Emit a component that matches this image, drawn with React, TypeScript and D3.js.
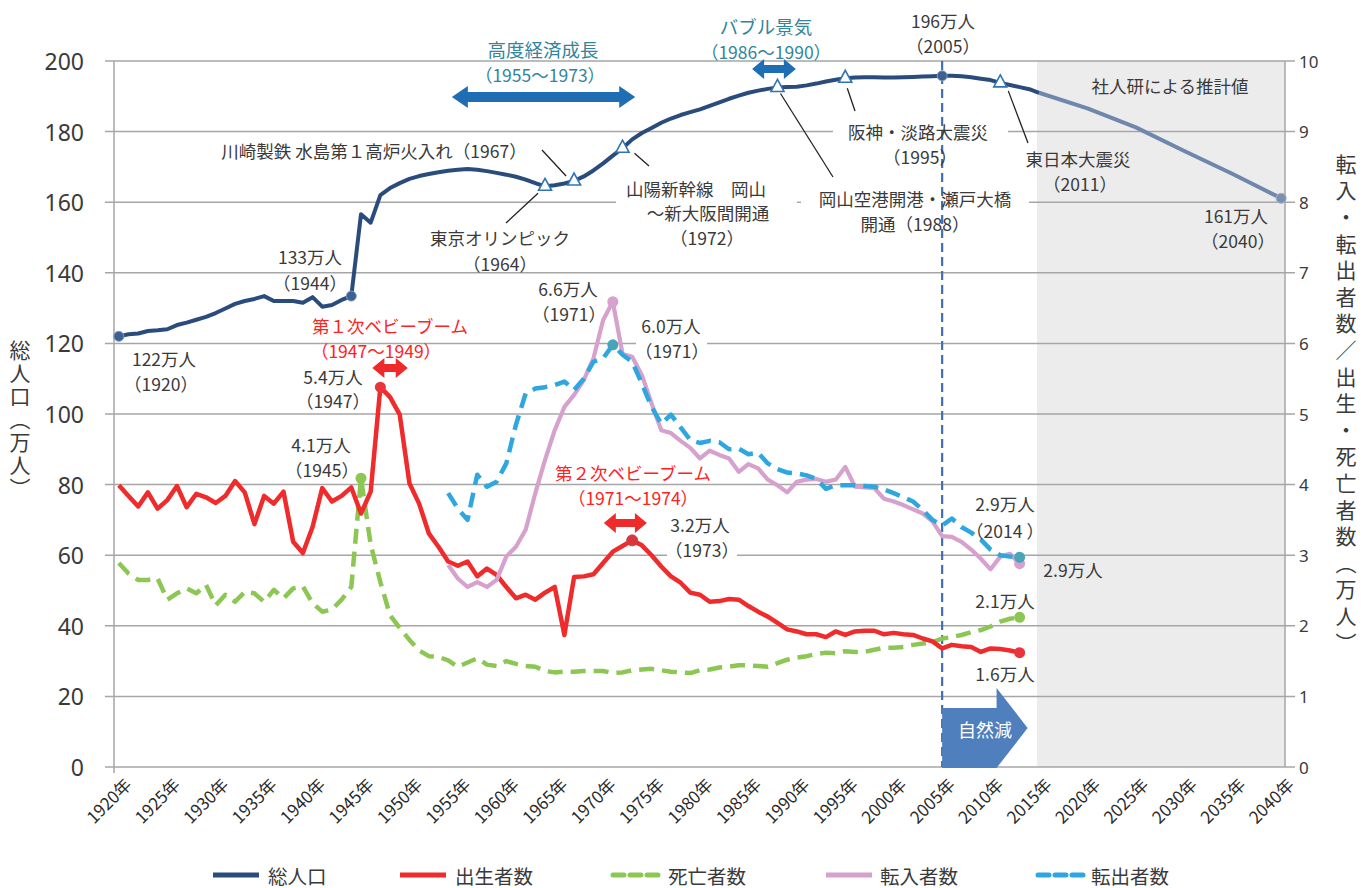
import React from "react";
import * as d3 from "d3";

// plot frame
const W = 1370;
const H = 888;
const PL = 114;
const PR = 1286;
const PT = 61;
const PB = 767;

const FONT = "'Noto Sans CJK JP', 'Noto Sans', sans-serif";
const NUM_FONT = "'Noto Sans', 'Open Sans', sans-serif";
const DARK = "#3a3a3a";
const TEAL = "#31859c";
const RED_TXT = "#ff2222";

// category axis: every year 1920..2040
const years = d3.range(1920, 2041);
const tickYears = [1920, 1925, 1930, 1935, 1940, 1945, 1950, 1955, 1960, 1965, 1970, 1975, 1980, 1985, 1990, 1995, 2000, 2005, 2010, 2015, 2020, 2025, 2030, 2035, 2040];
const leftTicks = [0, 20, 40, 60, 80, 100, 120, 140, 160, 180, 200];
const rightTicks = [0, 1, 2, 3, 4, 5, 6, 7, 8, 9, 10];

// 総人口 (万人), 1920-2015
const popYears = d3.range(1920, 2016);
const popValues = [
  122.0, 122.6, 122.8, 123.5, 123.7, 124.0, 125.2, 125.9, 126.7, 127.5,
  128.6, 129.9, 131.2, 132.0, 132.6, 133.4, 132.0, 132.0, 132.0, 131.5,
  133.1, 130.4, 130.9, 132.3, 133.4, 156.6, 154.2, 162.0, 164.0, 165.4,
  166.6, 167.4, 168.0, 168.5, 168.9, 169.2, 169.4, 169.2, 168.8, 168.3,
  167.8, 167.2, 166.4, 165.4, 164.5, 164.8, 165.3, 166.0, 167.3, 169.0,
  171.0, 173.2, 175.3, 177.8, 179.6, 181.0, 182.5, 183.7, 184.7, 185.5,
  186.3, 187.3, 188.3, 189.3, 190.2, 191.0, 191.6, 192.1, 192.5, 192.6,
  192.7, 193.1, 193.6, 194.2, 194.7, 195.1, 195.3, 195.4, 195.4, 195.3,
  195.3, 195.4, 195.5, 195.6, 195.7, 195.8, 195.8, 195.7, 195.4, 195.0,
  194.6, 193.8, 193.2, 192.6, 192.0, 191.0,
];
// 社人研による推計値
const projYears = [2015, 2020, 2025, 2030, 2035, 2040];
const projValues = [191.0, 186.6, 181.2, 174.5, 168.0, 161.1];

// 出生者数 / 死亡者数 (万人), 1920-2013
const vitalYears = d3.range(1920, 2014);
const births = [
  3.99, 3.84, 3.69, 3.89, 3.66, 3.78, 3.98, 3.68, 3.87, 3.82,
  3.74, 3.84, 4.05, 3.89, 3.44, 3.84, 3.73, 3.9, 3.19, 3.03,
  3.4, 3.95, 3.76, 3.84, 3.96, 3.59, 3.9, 5.38, 5.24, 4.99,
  4.02, 3.73, 3.31, 3.12, 2.91, 2.85, 2.91, 2.7, 2.81, 2.72,
  2.55, 2.39, 2.44, 2.37, 2.47, 2.55, 1.87, 2.69, 2.7, 2.73,
  2.89, 3.05, 3.13, 3.21, 3.14, 3.0, 2.84, 2.7, 2.61, 2.47,
  2.44, 2.34, 2.35, 2.38, 2.37, 2.28, 2.2, 2.13, 2.04, 1.95,
  1.92, 1.88, 1.88, 1.84, 1.92, 1.87, 1.92, 1.93, 1.93, 1.88,
  1.9, 1.88, 1.87, 1.82, 1.78, 1.68, 1.73, 1.71, 1.7, 1.63,
  1.68, 1.67, 1.65, 1.62,
];
const deaths = [
  2.89, 2.74, 2.65, 2.65, 2.67, 2.37, 2.46, 2.53, 2.46, 2.58,
  2.29, 2.44, 2.34, 2.48, 2.46, 2.34, 2.51, 2.39, 2.53, 2.56,
  2.32, 2.2, 2.23, 2.37, 2.55, 4.09, 3.15, 2.62, 2.15, 1.97,
  1.8, 1.65, 1.57, 1.56, 1.51, 1.42, 1.48, 1.54, 1.45, 1.43,
  1.5, 1.46, 1.43, 1.42, 1.36, 1.34, 1.35, 1.35, 1.36, 1.36,
  1.36, 1.33, 1.34, 1.37, 1.38, 1.39, 1.37, 1.35, 1.34, 1.33,
  1.37, 1.38, 1.41, 1.42, 1.44, 1.44, 1.43, 1.42, 1.47, 1.52,
  1.55, 1.57, 1.6, 1.62, 1.61, 1.64, 1.63, 1.63, 1.66, 1.69,
  1.69, 1.7, 1.73, 1.75, 1.77, 1.82, 1.84, 1.87, 1.91, 1.94,
  1.99, 2.06, 2.1, 2.12,
];

// 転入者数 / 転出者数 (万人), 1954-2013
const migYears = d3.range(1954, 2014);
const movesIn = [
  2.86, 2.67, 2.55, 2.62, 2.55, 2.65, 2.98, 3.12, 3.36, 3.88,
  4.35, 4.77, 5.1, 5.27, 5.48, 5.79, 6.33, 6.59, 5.85, 5.81,
  5.55, 5.15, 4.77, 4.73, 4.62, 4.52, 4.37, 4.48, 4.42, 4.37,
  4.18, 4.29, 4.23, 4.07, 3.99, 3.89, 4.04, 4.07, 4.08, 4.04,
  4.07, 4.25, 3.97, 3.96, 3.95, 3.8, 3.76, 3.71, 3.65, 3.59,
  3.48, 3.27, 3.26, 3.19, 3.08, 2.95, 2.8, 2.98, 3.02, 2.88,
];
const movesOut = [
  3.88, 3.66, 3.5, 4.14, 3.97, 4.04, 4.3, 4.85, 5.29, 5.36,
  5.38, 5.41, 5.46, 5.34, 5.5, 5.74, 5.79, 5.98, 5.84, 5.74,
  5.43, 5.1, 4.86, 4.99, 4.81, 4.63, 4.59, 4.62, 4.6, 4.5,
  4.51, 4.43, 4.45, 4.3, 4.22, 4.17, 4.16, 4.13, 4.08, 3.94,
  3.99, 3.99, 3.99, 3.98, 3.97, 3.93, 3.88, 3.82, 3.76, 3.64,
  3.5, 3.42, 3.52, 3.4, 3.32, 3.22, 3.08, 3.0, 2.98, 2.97,
];

// events marked with triangles on the total line
const eventYears = [1964, 1967, 1972, 1988, 1995, 2011];

const C_POP = "#2a4c7d";
const C_PROJ = "#6f87ab";
const C_BIRTH = "#ef2b2b";
const C_DEATH = "#8cc653";
const C_IN = "#d6a1cd";
const C_OUT = "#2ea6df";
const C_ARROW = "#1f6db5";

type P = [number, number];

function dblArrow(x0: number, x1: number, y: number, shaft: number, head: number, len: number) {
  return `M${x0},${y} L${x0 + len},${y - head} L${x0 + len},${y - shaft} L${x1 - len},${y - shaft} L${x1 - len},${y - head} L${x1},${y} L${x1 - len},${y + head} L${x1 - len},${y + shaft} L${x0 + len},${y + shaft} L${x0 + len},${y + head} Z`;
}

const Label = ({ x, y, text, fill = DARK, size = 17.5 }: { x: number; y: number; text: string; fill?: string; size?: number }) => (
  <text x={x} y={y} textAnchor="middle" dominantBaseline="central" fontSize={size} fill={fill} fontFamily={FONT}>
    {text}
  </text>
);

export default function App() {
  const x = d3.scalePoint<number>().domain(years).range([PL, PR]).padding(0.5);
  const yL = d3.scaleLinear().domain([0, 200]).range([PB, PT]);
  const yR = d3.scaleLinear().domain([0, 10]).range([PB, PT]);

  const lineL = d3.line<P>().x((d) => x(d[0])!).y((d) => yL(d[1]));
  const lineR = d3.line<P>().x((d) => x(d[0])!).y((d) => yR(d[1]));
  const zip = (ys: number[], vs: number[]): P[] => ys.map((yr, i) => [yr, vs[i]]);

  const popPts = zip(popYears, popValues);
  const projPts = zip(projYears, projValues);
  const birthPts = zip(vitalYears, births);
  const deathPts = zip(vitalYears, deaths);
  const inPts = zip(migYears, movesIn);
  const outPts = zip(migYears, movesOut);

  const pop = (yr: number) => popValues[popYears.indexOf(yr)];
  const vit = (arr: number[], yr: number) => arr[vitalYears.indexOf(yr)];
  const mig = (arr: number[], yr: number) => arr[migYears.indexOf(yr)];

  const shadeX = x(2015)! - 2;
  const xEnd = x(2013)!;

  // white boxes behind labels that cut grid lines
  const boxes = [
    { x0: 833, x1: 1008, y0: 120, y1: 143 },
    { x0: 801, x1: 1029, y0: 192, y1: 210 },
    { x0: 616, x1: 797, y0: 194, y1: 208 },
    { x0: 636, x1: 707, y0: 336, y1: 352 },
    { x0: 667, x1: 737, y0: 548, y1: 562 },
  ];

  const labels: { x: number; y: number; text: string; fill?: string; size?: number }[] = [
    { x: 943, y: 20, text: "196万人" },
    { x: 943, y: 45, text: "（2005）" },
    { x: 1170, y: 85, text: "社人研による推計値" },
    { x: 918, y: 131, text: "阪神・淡路大震災" },
    { x: 920, y: 156, text: "（1995）" },
    { x: 915, y: 198, text: "岡山空港開港・瀬戸大橋" },
    { x: 915, y: 223, text: "開通（1988）" },
    { x: 1078, y: 158, text: "東日本大震災" },
    { x: 1080, y: 183, text: "（2011）" },
    { x: 1236, y: 215, text: "161万人" },
    { x: 1238, y: 240, text: "（2040）" },
    { x: 374, y: 150, text: "川崎製鉄 水島第１高炉火入れ（1967）" },
    { x: 696, y: 188, text: "山陽新幹線　岡山" },
    { x: 708, y: 212, text: "〜新大阪間開通" },
    { x: 707, y: 237, text: "（1972）" },
    { x: 500, y: 237, text: "東京オリンピック" },
    { x: 500, y: 263, text: "（1964）" },
    { x: 310, y: 256, text: "133万人" },
    { x: 310, y: 282, text: "（1944）" },
    { x: 164, y: 358, text: "122万人" },
    { x: 161, y: 383, text: "（1920）" },
    { x: 333, y: 376, text: "5.4万人" },
    { x: 333, y: 400, text: "（1947）" },
    { x: 321, y: 444, text: "4.1万人" },
    { x: 322, y: 469, text: "（1945）" },
    { x: 568, y: 288, text: "6.6万人" },
    { x: 569, y: 313, text: "（1971）" },
    { x: 671, y: 325, text: "6.0万人" },
    { x: 672, y: 350, text: "（1971）" },
    { x: 700, y: 524, text: "3.2万人" },
    { x: 702, y: 549, text: "（1973）" },
    { x: 1005, y: 503, text: "2.9万人" },
    { x: 1005, y: 530, text: "（2014 ）" },
    { x: 1073, y: 569, text: "2.9万人" },
    { x: 1005, y: 600, text: "2.1万人" },
    { x: 1005, y: 673, text: "1.6万人" },
    { x: 543, y: 49, text: "高度経済成長", fill: TEAL, size: 18.5 },
    { x: 540, y: 74, text: "（1955〜1973）", fill: TEAL, size: 17.5 },
    { x: 766, y: 26, text: "バブル景気", fill: TEAL, size: 18.5 },
    { x: 766, y: 51, text: "（1986〜1990）", fill: TEAL, size: 17.5 },
    { x: 390, y: 325, text: "第１次ベビーブーム", fill: RED_TXT },
    { x: 376, y: 350, text: "（1947〜1949）", fill: RED_TXT },
    { x: 633, y: 472, text: "第２次ベビーブーム", fill: RED_TXT },
    { x: 633, y: 497, text: "（1971〜1974）", fill: RED_TXT },
  ];

  // leader lines: from event point out to its label
  const leaders: [number, number, number, number][] = [
    [x(1967)! - 8, yL(pop(1967)) - 5, 542, 150],
    [x(1972)! + 12, yL(pop(1972)) + 5, 649, 166],
    [x(1964)! - 7, yL(pop(1964)) + 7, 506, 223],
    [x(1988)! + 3, yL(pop(1988)) + 6, 833, 177],
    [x(1995)! + 2, yL(pop(1995)) + 10, 855, 111],
    [x(2011)! + 8, yL(pop(2011)) + 8, 1028, 143],
  ];

  const LEG_Y = 875;
  const legend = [
    { label: "総人口", color: C_POP, dash: "", x0: 213, tx: 268 },
    { label: "出生者数", color: C_BIRTH, dash: "", x0: 400, tx: 455 },
    { label: "死亡者数", color: C_DEATH, dash: "11 6", x0: 613, tx: 668 },
    { label: "転入者数", color: C_IN, dash: "", x0: 826, tx: 880 },
    { label: "転出者数", color: C_OUT, dash: "11 6", x0: 1038, tx: 1091 },
  ];

  const tri = "M0,-7 L6.5,5 L-6.5,5 Z";

  return (
    <svg width={W} height={H} style={{ position: "absolute", left: 0, top: 0, background: "#fff" }}>
      <rect x={0} y={0} width={W} height={H} fill="#fff" />
      {/* projection area */}
      <rect x={shadeX} y={PT} width={PR - 1 - shadeX} height={PB - PT} fill="#ececec" />

      {/* grid + ticks */}
      {leftTicks.map((t) => (
        <line key={t} x1={PL - 9} x2={PR + 9} y1={yL(t)} y2={yL(t)} stroke="#a6a6a6" strokeWidth={1.5} />
      ))}
      <line x1={PL} x2={PL} y1={PT} y2={PB + 6} stroke="#a6a6a6" strokeWidth={1.5} />
      <line x1={PR - 1} x2={PR - 1} y1={PT} y2={PB} stroke="#a6a6a6" strokeWidth={1.5} />

      {leftTicks.map((t) => (
        <text key={t} x={84} y={yL(t)} textAnchor="end" dominantBaseline="central" fontSize={23} fill={DARK} fontFamily={NUM_FONT}>
          {t}
        </text>
      ))}
      {rightTicks.map((t) => (
        <text key={t} x={1299} y={yR(t)} textAnchor="start" dominantBaseline="central" fontSize={17} fill={DARK} fontFamily={NUM_FONT}>
          {t}
        </text>
      ))}

      {/* x tick labels */}
      {tickYears.map((yr) => (
        <text
          key={yr}
          transform={`translate(${x(yr)! + 14},${786}) rotate(-45)`}
          textAnchor="end"
          fontSize={17}
          fill="#2a2a2a"
          fontFamily={FONT}>
          {yr}年
        </text>
      ))}

      {/* axis titles */}
      <text x={20} y={420} textAnchor="middle" fontSize={21} fill={DARK} fontFamily={FONT} style={{ writingMode: "vertical-rl", letterSpacing: 2 }}>
        総人口（万人）
      </text>
      <text x={1346} y={406} textAnchor="middle" fontSize={21} fill={DARK} fontFamily={FONT} style={{ writingMode: "vertical-rl", letterSpacing: 5.6 }}>
        転入・転出者数／出生・死亡者数（万人）
      </text>

      {/* label boxes */}
      {boxes.map((b, i) => (
        <rect key={i} x={b.x0} y={b.y0} width={b.x1 - b.x0} height={b.y1 - b.y0} fill="#fff" />
      ))}

      {/* 2005 marker line */}
      <line x1={x(2005)} x2={x(2005)} y1={PT} y2={PB} stroke="#3f70b3" strokeWidth={2.2} strokeDasharray="9 5" />

      {/* 自然減 block arrow */}
      <path
        d={`M${x(2005)},708 L${x(2010)! + 6},708 L${x(2010)! + 6},688 L${xEnd + 8},728 L${x(2010)! + 6},768 L${x(2005)},768 Z`}
        fill="#4f7fbd"
      />
      <Label x={985} y={729} text="自然減" fill="#fff" size={18} />

      {/* series */}
      <path d={lineR(deathPts)!} fill="none" stroke={C_DEATH} strokeWidth={4.5} strokeDasharray="15 8" strokeLinejoin="round" />
      <path d={lineR(birthPts)!} fill="none" stroke={C_BIRTH} strokeWidth={4.5} strokeLinejoin="round" />
      <path d={lineR(inPts)!} fill="none" stroke={C_IN} strokeWidth={4.2} strokeLinejoin="round" />
      <path d={lineR(outPts)!} fill="none" stroke={C_OUT} strokeWidth={4.5} strokeDasharray="15 8" strokeLinejoin="round" />
      <path d={lineL(projPts)!} fill="none" stroke={C_PROJ} strokeWidth={4} strokeLinejoin="round" />
      <path d={lineL(popPts)!} fill="none" stroke={C_POP} strokeWidth={4} strokeLinejoin="round" />

      {/* markers */}
      {[1920, 1944, 2005].map((yr) => (
        <circle key={yr} cx={x(yr)} cy={yL(pop(yr))} r={5} fill="#3d6291" stroke="#7c9bc6" strokeWidth={1} />
      ))}
      <circle cx={x(2040)} cy={yL(projValues[projValues.length - 1])} r={5} fill="#7b8fb0" stroke="#9fb1cc" strokeWidth={1} />
      {eventYears.map((yr) => (
        <path key={yr} d={tri} transform={`translate(${x(yr)},${yL(pop(yr)) - 1})`} fill="#fff" stroke="#2e74b5" strokeWidth={1.6} />
      ))}
      {[1947, 2013].map((yr) => (
        <circle key={yr} cx={x(yr)} cy={yR(vit(births, yr))} r={5.5} fill="#e8343a" />
      ))}
      <circle cx={x(1973)} cy={yR(vit(births, 1973))} r={5.5} fill="#d9363d" stroke="#b84a4f" strokeWidth={1} />
      {[1945, 2013].map((yr) => (
        <circle key={yr} cx={x(yr)} cy={yR(vit(deaths, yr))} r={5.5} fill="#8cc653" />
      ))}
      {[1971, 2013].map((yr) => (
        <circle key={yr} cx={x(yr)} cy={yR(mig(movesIn, yr))} r={5.5} fill="#d6a1cd" />
      ))}
      {[1971, 2013].map((yr) => (
        <circle key={yr} cx={x(yr)} cy={yR(mig(movesOut, yr))} r={5.5} fill="#48a4b8" />
      ))}

      {/* period arrows */}
      <path d={dblArrow(x(1955)! - 6, x(1973)! + 3, 97, 5, 11, 16)} fill={C_ARROW} />
      <path d={dblArrow(x(1986)! - 6, x(1990)! - 1, 69, 4, 10, 12)} fill={C_ARROW} />
      <path d={dblArrow(x(1947)! - 8, x(1949)! + 8, 368, 4, 10, 12)} fill="#ee2a2a" />
      <path d={dblArrow(x(1971)! - 9, x(1974)! + 5, 523, 4, 10, 12)} fill="#ee2a2a" />

      {/* leaders */}
      {leaders.map((l, i) => (
        <line key={i} x1={l[0]} y1={l[1]} x2={l[2]} y2={l[3]} stroke="#222" strokeWidth={1.3} />
      ))}

      {labels.map((l, i) => (
        <Label key={i} {...l} />
      ))}

      {/* legend */}
      {legend.map((g) => (
        <g key={g.label}>
          <line x1={g.x0} x2={g.x0 + 46} y1={LEG_Y} y2={LEG_Y} stroke={g.color} strokeWidth={5} strokeDasharray={g.dash || undefined} strokeLinecap={g.dash ? "round" : "butt"} />
          <text x={g.tx} y={LEG_Y} dominantBaseline="central" fontSize={19.5} fill={DARK} fontFamily={FONT}>
            {g.label}
          </text>
        </g>
      ))}
    </svg>
  );
}
